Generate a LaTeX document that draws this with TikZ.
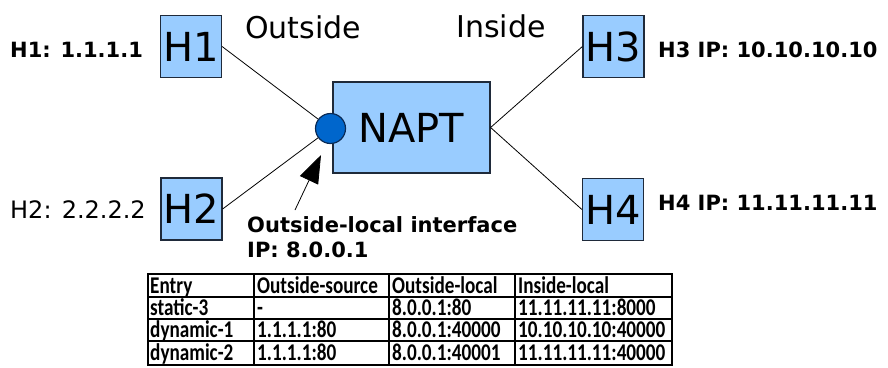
\documentclass[tikz,border=0pt]{standalone}
\usepackage{fontspec}
\setmainfont{DejaVu Sans}
\newfontfamily\tabfont[FakeStretch=0.8]{Carlito}
\usetikzlibrary{arrows.meta}
\definecolor{boxfill}{HTML}{99CCFF}
\definecolor{boxline}{HTML}{1F2A3A}
\definecolor{portfill}{HTML}{0066CC}
\definecolor{portline}{HTML}{0A2A55}
\begin{document}
\begin{tikzpicture}[x=1pt,y=-1pt,
  hostbox/.style={draw=boxline, fill=boxfill, line width=1.2pt, minimum width=61pt, minimum height=62pt, inner sep=0pt, font=\fontsize{40}{40}\selectfont},
  naptbox/.style={draw=boxline, fill=boxfill, line width=1.2pt, minimum width=157pt, minimum height=91pt, inner sep=0pt, font=\fontsize{40}{40}\selectfont},
  port/.style={circle, draw=portline, fill=portfill, line width=1.2pt, minimum size=30pt, inner sep=0pt},
  lblb/.style={inner sep=0pt, anchor=base west, font=\fontsize{21}{25}\selectfont\bfseries},
  lblr/.style={inner sep=0pt, anchor=base west, font=\fontsize{24}{28}\selectfont},
  zone/.style={inner sep=0pt, anchor=base west, font=\fontsize{30}{30}\selectfont},
  link/.style={draw=black, line width=0.8pt},
  cell/.style={inner sep=0pt, anchor=base west, text height=15pt, text depth=3pt, font=\tabfont\bfseries\fontsize{24}{24}\selectfont},
  grid/.style={draw=black, line width=1.3pt}
]
\useasboundingbox (0,0) rectangle (888,367);

% hosts and NAPT
\node[hostbox] (h1) at (191,46.5) {H1};
\node[hostbox] (h2) at (191.5,209) {H2};
\node[hostbox] (h3) at (613.5,46.5) {H3};
\node[hostbox] (h4) at (613,209.5) {H4};
\node[naptbox] (napt) at (411.5,127.5) {NAPT};
\node[port] (port) at (330.5,128.5) {};

% connectors
\draw[link] (h1.east) -- (port);
\draw[link] (h2.east) -- (port);
\draw[link] (napt.east) -- (h3.west);
\draw[link] (napt.east) -- (h4.west);

% labels
\node[lblb] (l1) at (10,57) {H1: 1.1.1.1};
\node[lblr] (l2) at (10,218) {H2: 2.2.2.2};
\node[lblb] (l3) at (658,57) {H3 IP: 10.10.10.10};
\node[lblb] (l4) at (658,210) {H4 IP: 11.11.11.11};
\node[zone] (outside) at (245,38) {Outside};
\node[zone] (inside) at (456,37) {Inside};
\node[lblb] (ifc1) at (247,232) {Outside-local interface};
\node[lblb] (ifc2) at (247,257) {IP: 8.0.0.1};

% arrow to interface
\coordinate (atail) at (295,210);
\coordinate (atip) at (321,155);
\draw[line width=0.8pt, -{Triangle[length=28pt,width=20pt]}] (atail) -- (atip);

% table
\draw[grid] (148,274) rectangle (672,365);
\draw[grid] (148,297) -- (672,297);
\draw[grid] (148,319) -- (672,319);
\draw[grid] (148,341) -- (672,341);
\draw[grid] (254,274) -- (254,365);
\draw[grid] (389,274) -- (389,365);
\draw[grid] (515,274) -- (515,365);

\node[cell] (c11) at (150,293) {Entry};
\node[cell] (c12) at (257,293) {Outside-source};
\node[cell] (c13) at (392,293) {Outside-local};
\node[cell] (c14) at (518,293) {Inside-local};
\node[cell] (c21) at (150,315) {static-3};
\node[cell] (c22) at (257,315) {-};
\node[cell] (c23) at (392,315) {8.0.0.1:80};
\node[cell] (c24) at (518,315) {11.11.11.11:8000};
\node[cell] (c31) at (150,337) {dynamic-1};
\node[cell] (c32) at (257,337) {1.1.1.1:80};
\node[cell] (c33) at (392,337) {8.0.0.1:40000};
\node[cell] (c34) at (518,337) {10.10.10.10:40000};
\node[cell] (c41) at (150,360) {dynamic-2};
\node[cell] (c42) at (257,360) {1.1.1.1:80};
\node[cell] (c43) at (392,360) {8.0.0.1:40001};
\node[cell] (c44) at (518,360) {11.11.11.11:40000};
\end{tikzpicture}
\end{document}
